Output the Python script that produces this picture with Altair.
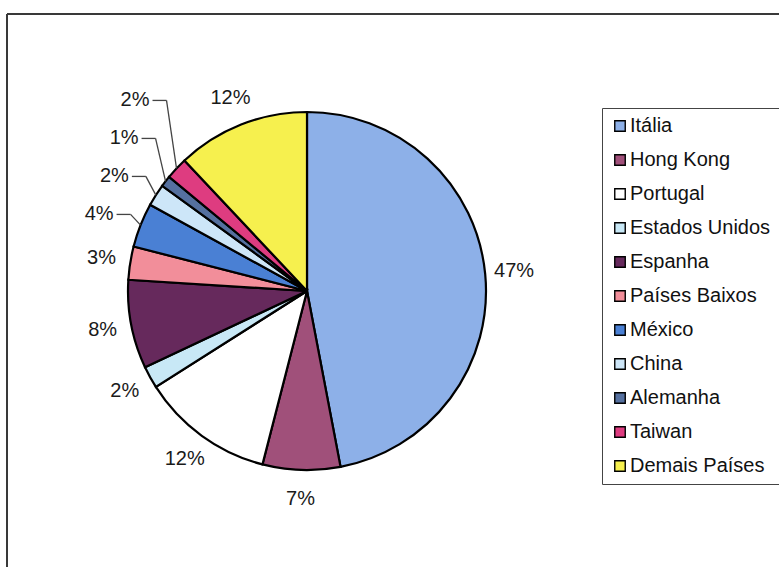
import math
import altair as alt
import pandas as pd

countries = ["Itália", "Hong Kong", "Portugal", "Estados Unidos", "Espanha",
             "Países Baixos", "México", "China", "Alemanha", "Taiwan", "Demais Países"]
shares = [47, 7, 12, 2, 8, 3, 4, 2, 1, 2, 12]
labels = ["47%", "7%", "12%", "2%", "8%", "3%", "4%", "2%", "1%", "2%", "12%"]
colors = ["#8DB0E8", "#A0507A", "#FFFFFF", "#C8E8F6", "#66295C", "#F28E9A",
          "#4A80D4", "#CDE6F8", "#55709F", "#DE3C80", "#F6F04E"]

# layout (pixels, relative to the plot origin)
W, H = 772, 553
CX, CY, R = 300, 277, 179
LABEL_R = 208
GAP = 38
FONT = "Liberation Sans"

n = len(countries)
total = float(sum(shares))
mids = []
cum = 0.0
for s in shares:
    mids.append((cum + s / 2.0) / total * 2 * math.pi)
    cum += s

lx = [CX + LABEL_R * math.sin(a) for a in mids]
ly = [CY - LABEL_R * math.cos(a) for a in mids]
leader = [False] * n
prev = None
for i in range(n):
    a = mids[i]
    if math.pi < a < 2 * math.pi:
        if prev is not None and abs(lx[i] - lx[prev]) < 50 and ly[i] > ly[prev] - GAP:
            ly[i] = ly[prev] - GAP
            leader[i] = True
            leader[prev] = True
        prev = i

rows = []
segs = []
for i in range(n):
    a = mids[i]
    ex = CX + R * math.sin(a)
    ey = CY - R * math.cos(a)
    if leader[i]:
        xr = ex - 27
        rows.append({"label": labels[i], "x": xr, "y": ly[i], "lead": True})
        segs.append({"x": xr + 3, "y": ly[i], "x2": ex - 10, "y2": ly[i]})
        segs.append({"x": ex - 10, "y": ly[i], "x2": ex, "y2": ey})
    else:
        rows.append({"label": labels[i], "x": lx[i], "y": ly[i], "lead": False})

df = pd.DataFrame({"country": countries, "share": shares, "order": list(range(n))})
lab = pd.DataFrame(rows)
seg = pd.DataFrame(segs)

pie = alt.Chart(df).mark_arc(radius=R, stroke="black", strokeWidth=2.2).encode(
    theta=alt.Theta("share:Q", stack=True),
    order=alt.Order("order:Q"),
    color=alt.Color(
        "country:N",
        scale=alt.Scale(domain=countries, range=colors),
        legend=alt.Legend(
            title=None, orient="none", legendX=595, legendY=94,
            symbolType="square", symbolSize=110, symbolStrokeColor="black",
            symbolStrokeWidth=1.4, labelFont=FONT, labelFontSize=20,
            labelColor="#111111", strokeColor="#444444", fillColor="white",
            padding=8, rowPadding=14, labelOffset=0, labelLimit=300,
        ),
    ),
    x=alt.value(CX),
    y=alt.value(CY),
)

txt_c = alt.Chart(lab).transform_filter("!datum.lead").mark_text(
    font=FONT, fontSize=20, color="#1a1a1a", align="center", baseline="middle"
).encode(
    x=alt.X("x:Q", scale=None, axis=None),
    y=alt.Y("y:Q", scale=None, axis=None),
    text="label:N",
)

txt_r = alt.Chart(lab).transform_filter("datum.lead").mark_text(
    font=FONT, fontSize=20, color="#1a1a1a", align="right", baseline="middle"
).encode(
    x=alt.X("x:Q", scale=None, axis=None),
    y=alt.Y("y:Q", scale=None, axis=None),
    text="label:N",
)

rules = alt.Chart(seg).mark_rule(color="#444444", strokeWidth=1.3).encode(
    x=alt.X("x:Q", scale=None, axis=None),
    y=alt.Y("y:Q", scale=None, axis=None),
    x2="x2:Q",
    y2="y2:Q",
)

frame_top = alt.Chart(df).mark_rule(color="#3a3a3a", strokeWidth=1.5).encode(
    x=alt.value(0), x2=alt.value(W), y=alt.value(0)
)
frame_left = alt.Chart(df).mark_rule(color="#3a3a3a", strokeWidth=1.5).encode(
    x=alt.value(0), y=alt.value(0), y2=alt.value(H)
)

chart = alt.layer(frame_top, frame_left, pie, rules, txt_c, txt_r).properties(
    width=W, height=H, autosize="none",
    padding={"left": 7, "top": 14, "right": 0, "bottom": 0},
    background="white",
).configure_view(stroke=None)

chart.save("out.html", embed_options={"renderer": "svg", "actions": False})
